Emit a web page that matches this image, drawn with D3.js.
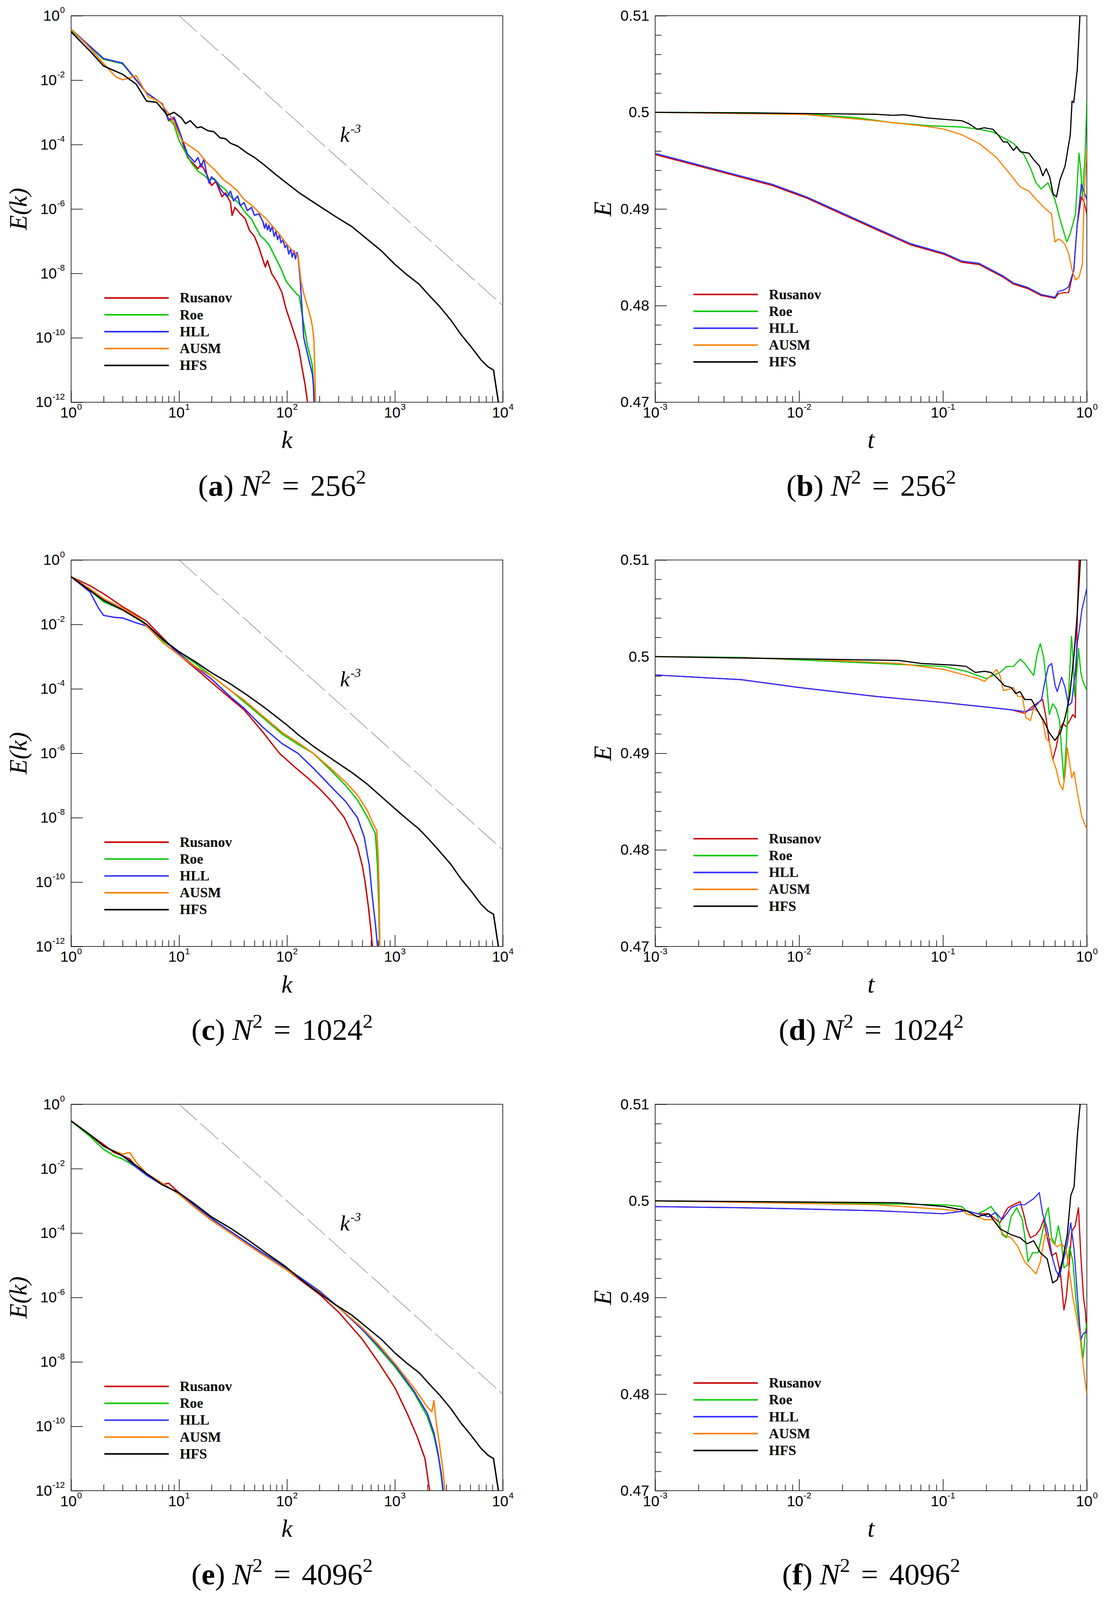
<!DOCTYPE html>
<html>
<head>
<meta charset="utf-8">
<script src="https://cdn.jsdelivr.net/npm/d3@7"></script>
<style>html,body{margin:0;padding:0;background:#fff;overflow:hidden}svg{display:block;width:100vw;height:100vh}</style>
</head>
<body>
<div id="chart"></div>
<script>
// scheme names and line colours
var schemes = ['Rusanov', 'Roe', 'HLL', 'AUSM', 'HFS'];
var colors = ['#cc0000', '#00c800', '#3030ff', '#ff8000', '#000000'];

// energy spectra: [k, log10 E(k)]
var aRusanov = [[1,-0.45],[2,-1.35],[3,-1.49],[5,-2.39],[7,-2.74],[8,-3.26],[9,-3.2],[10,-3.6],[12,-4.4],[15,-4.75],[16,-4.6],[18,-4.92],[20,-5.27],[22,-5.15],[25,-5.62],[27,-5.5],[30,-5.8],[31,-6.2],[33,-5.95],[37,-6.15],[41,-6.3],[45,-6.67],[50,-6.85],[55,-7.2],[63,-7.8],[66,-7.6],[72,-8.0],[80,-8.24],[90,-8.6],[98,-9.1],[110,-9.6],[123,-10.1],[130,-10.4],[137,-10.87],[148,-11.5],[155,-12]];
var aRoe = [[1,-0.45],[2,-1.35],[3,-1.49],[5,-2.39],[7,-2.74],[8,-3.2],[9,-3.39],[10,-3.87],[11,-4.13],[13,-4.57],[15,-4.83],[17,-4.95],[19,-5.1],[21,-5.05],[24,-5.27],[27,-5.4],[30,-5.62],[34,-5.75],[37,-5.88],[40,-6.06],[47,-6.32],[52,-6.6],[57,-6.84],[62,-6.95],[68,-7.1],[79,-7.54],[88,-7.85],[98,-8.24],[110,-8.45],[123,-8.64],[130,-8.7],[137,-9.2],[143,-9.55],[155,-10.25],[165,-10.6],[172,-10.87],[178,-11.65],[180,-12]];
var aHLL = [[1,-0.42],[2,-1.33],[3,-1.47],[5,-2.39],[7,-2.74],[8,-3.22],[9,-3.15],[10,-3.55],[12,-4.3],[14,-4.55],[15,-4.4],[16,-4.7],[17,-4.45],[18,-4.9],[19,-5.2],[20,-5.0],[22,-5.15],[25,-5.45],[28,-5.62],[30,-5.45],[32,-5.75],[35,-5.6],[37,-5.9],[40,-5.8],[43,-6.05],[47,-5.95],[50,-6.2],[55,-6.15],[60,-6.4],[62,-6.6],[64,-6.45],[66,-6.65],[68,-6.5],[70,-6.7],[73,-6.55],[76,-6.85],[79,-6.7],[82,-6.95],[85,-6.8],[88,-7.05],[92,-6.95],[96,-7.2],[100,-7.1],[104,-7.4],[108,-7.25],[112,-7.5],[116,-7.3],[120,-7.55],[124,-7.35],[127,-7.5],[133,-8.24],[143,-9.99],[150,-10.3],[160,-10.7],[172,-11.13],[176,-11.5],[178,-12]];
var aAUSM = [[1,-0.42],[1.4,-0.9],[2.2,-1.64],[2.6,-1.9],[3,-1.99],[3.5,-1.93],[4,-1.86],[5.2,-2.52],[6,-2.6],[6.7,-2.69],[8.4,-3.13],[9.5,-3.5],[10.6,-3.87],[12,-4.0],[15,-4.22],[18,-4.55],[22,-4.83],[26,-5.1],[30,-5.25],[35,-5.45],[40,-5.7],[47,-5.88],[55,-6.1],[63,-6.28],[72,-6.5],[84,-6.76],[95,-7.0],[106,-7.2],[118,-7.35],[127,-7.46],[135,-8.24],[145,-8.7],[155,-9.03],[165,-9.35],[172,-9.64],[178,-10.08],[181,-11.0],[183,-11.56],[184,-12]];
var aHFS = [[1,-0.5],[1.5,-1.1],[2,-1.56],[3,-1.82],[4,-2.12],[5,-2.65],[6.2,-2.69],[7,-2.9],[7.8,-3.09],[9,-3.0],[10.5,-3.17],[11.5,-3.35],[12.7,-3.26],[14.7,-3.48],[16,-3.45],[18.5,-3.57],[21,-3.6],[24,-3.79],[27,-3.82],[30,-3.96],[35,-4.05],[43,-4.27],[50,-4.4],[63,-4.66],[80,-4.95],[98,-5.18],[130,-5.5],[178,-5.8],[280,-6.23],[400,-6.55],[550,-6.93],[750,-7.3],[1000,-7.72],[1300,-8.05],[1670,-8.33],[2100,-8.7],[2600,-9.03],[3300,-9.45],[4100,-9.9],[5000,-10.25],[6300,-10.69],[7300,-10.9],[8200,-11.0],[9100,-12]];

var cRusanov = [[1,-0.52],[1.5,-0.8],[2,-1.05],[3,-1.45],[4,-1.7],[5,-1.9],[7,-2.4],[10,-2.95],[14,-3.35],[20,-3.8],[30,-4.3],[40,-4.65],[60,-5.35],[85,-6.0],[120,-6.45],[160,-6.8],[200,-7.1],[260,-7.5],[340,-8.0],[400,-8.5],[450,-8.9],[500,-9.5],[530,-10.0],[570,-10.8],[600,-11.5],[620,-12]];
var cRoe = [[1,-0.52],[1.5,-0.95],[2,-1.3],[3,-1.55],[4,-1.75],[5,-2.0],[7,-2.5],[10,-2.85],[14,-3.2],[20,-3.6],[30,-4.05],[40,-4.4],[60,-4.9],[90,-5.4],[130,-5.75],[175,-6.0],[250,-6.5],[350,-7.0],[450,-7.45],[560,-8.0],[620,-8.3],[660,-8.5],[690,-9.5],[710,-10.8],[720,-12]];
var cHLL = [[1,-0.52],[1.5,-1.0],[1.8,-1.5],[2,-1.72],[2.5,-1.78],[3,-1.8],[4,-1.95],[5,-2.05],[7,-2.45],[10,-2.9],[14,-3.3],[20,-3.7],[30,-4.25],[40,-4.6],[60,-5.2],[90,-5.7],[126,-6.0],[180,-6.5],[250,-7.0],[350,-7.5],[450,-8.0],[520,-8.6],[580,-9.5],[620,-10.5],[660,-11.3],[690,-12]];
var cAUSM = [[1,-0.52],[1.5,-0.9],[2,-1.2],[3,-1.5],[4,-1.75],[5,-2.05],[7,-2.55],[10,-2.95],[14,-3.3],[20,-3.6],[30,-4.05],[40,-4.35],[60,-4.85],[90,-5.35],[130,-5.7],[175,-6.0],[250,-6.45],[350,-6.9],[450,-7.3],[560,-7.8],[630,-8.2],[680,-8.4],[700,-9.2],[715,-10.3],[725,-12]];
var cHFS = [[1,-0.52],[1.5,-0.95],[2,-1.25],[3,-1.55],[4,-1.8],[5,-2.0],[7,-2.45],[10,-2.85],[14,-3.15],[20,-3.5],[30,-3.85],[43,-4.2],[63,-4.6],[98,-5.1],[130,-5.45],[178,-5.8],[280,-6.25],[400,-6.6],[550,-6.95],[750,-7.35],[1000,-7.72],[1300,-8.05],[1670,-8.35],[2100,-8.7],[2600,-9.05],[3300,-9.45],[4100,-9.9],[5000,-10.25],[6300,-10.69],[7300,-10.9],[8200,-11.0],[9100,-12]];

var eRusanov = [[1,-0.52],[1.5,-0.95],[2,-1.25],[2.5,-1.5],[3,-1.6],[3.5,-1.7],[4,-1.95],[5,-2.2],[7,-2.5],[8,-2.45],[10,-2.75],[14,-3.2],[20,-3.6],[30,-4.0],[50,-4.5],[100,-5.15],[200,-5.9],[300,-6.45],[500,-7.3],[700,-8.0],[1000,-8.8],[1300,-9.6],[1600,-10.3],[1900,-11.0],[2100,-12]];
var eRoe = [[1,-0.52],[1.5,-1.0],[2,-1.4],[2.5,-1.6],[3,-1.7],[4,-1.95],[5,-2.2],[7,-2.5],[10,-2.75],[14,-3.15],[20,-3.55],[30,-3.95],[50,-4.45],[100,-5.1],[200,-5.8],[300,-6.3],[500,-7.0],[700,-7.55],[1000,-8.15],[1500,-8.95],[2000,-9.7],[2300,-10.3],[2550,-11.0],[2700,-11.6],[2780,-12]];
var eHLL = [[1,-0.52],[1.5,-0.95],[2,-1.3],[3,-1.6],[4,-1.95],[5,-2.2],[7,-2.5],[10,-2.75],[14,-3.15],[20,-3.55],[30,-3.95],[50,-4.45],[100,-5.1],[200,-5.8],[300,-6.3],[500,-7.0],[700,-7.5],[1000,-8.1],[1500,-8.9],[2000,-9.6],[2300,-10.2],[2500,-10.8],[2700,-11.5],[2800,-12]];
var eAUSM = [[1,-0.52],[1.5,-0.95],[2,-1.3],[2.5,-1.45],[3,-1.55],[3.5,-1.5],[4,-1.8],[5,-2.15],[7,-2.45],[10,-2.8],[14,-3.2],[20,-3.6],[30,-4.0],[50,-4.5],[100,-5.15],[200,-5.85],[300,-6.3],[500,-6.95],[700,-7.45],[1000,-8.05],[1500,-8.8],[2000,-9.4],[2200,-9.55],[2300,-9.2],[2400,-9.8],[2600,-10.6],[2800,-11.4],[2900,-12]];
var eHFS = [[1,-0.52],[1.5,-0.95],[2,-1.3],[3,-1.6],[4,-1.9],[5,-2.15],[7,-2.5],[10,-2.75],[14,-3.1],[20,-3.5],[30,-3.85],[43,-4.2],[63,-4.6],[98,-5.05],[130,-5.4],[178,-5.75],[280,-6.22],[400,-6.55],[550,-6.93],[750,-7.3],[1000,-7.72],[1300,-8.05],[1670,-8.33],[2100,-8.7],[2600,-9.03],[3300,-9.45],[4100,-9.9],[5000,-10.25],[6300,-10.69],[7300,-10.9],[8200,-11.0],[9100,-12]];

// kinetic energy history: [t, E]
var bRusanov = [[0.001,0.49563],[0.00217,0.49431],[0.00655,0.49242],[0.01135,0.49111],[0.0197,0.4895],[0.0341,0.4879],[0.0593,0.4863],[0.1028,0.48528],[0.1355,0.48448],[0.178,0.48426],[0.262,0.48294],[0.309,0.48222],[0.385,0.48178],[0.481,0.48105],[0.6,0.48076],[0.632,0.4812],[0.687,0.48134],[0.746,0.48134],[0.811,0.48367],[0.857,0.48834],[0.916,0.49125],[0.957,0.4907],[1.0,0.4895]];
var bRoe = [[0.001,0.5],[0.005,0.49995],[0.01135,0.49985],[0.0259,0.49942],[0.045,0.49892],[0.078,0.49863],[0.1355,0.49848],[0.178,0.49825],[0.222,0.49796],[0.262,0.49738],[0.309,0.49679],[0.365,0.49563],[0.407,0.49417],[0.443,0.49271],[0.481,0.49207],[0.537,0.49271],[0.6,0.49096],[0.668,0.48834],[0.726,0.48659],[0.767,0.48746],[0.834,0.4895],[0.881,0.49577],[0.906,0.4942],[0.931,0.49125],[0.973,0.49563],[1.0,0.50117]];
var bHLL = [[0.001,0.49575],[0.00217,0.49443],[0.00655,0.49254],[0.01135,0.49123],[0.0197,0.48962],[0.0341,0.48802],[0.0593,0.48642],[0.1028,0.4854],[0.1355,0.4846],[0.178,0.48438],[0.262,0.48306],[0.309,0.48234],[0.385,0.4819],[0.481,0.48115],[0.6,0.48085],[0.632,0.48145],[0.687,0.4816],[0.746,0.48192],[0.811,0.48367],[0.857,0.48834],[0.916,0.49257],[0.957,0.4918],[1.0,0.49096]];
var bAUSM = [[0.001,0.5],[0.0111,0.49977],[0.0341,0.49913],[0.078,0.49854],[0.1028,0.49825],[0.1355,0.49767],[0.178,0.49679],[0.235,0.49534],[0.293,0.49359],[0.345,0.49227],[0.396,0.49184],[0.455,0.49082],[0.522,0.48994],[0.568,0.4895],[0.6,0.48659],[0.632,0.48688],[0.668,0.48673],[0.706,0.4863],[0.746,0.48542],[0.789,0.48367],[0.834,0.48265],[0.881,0.48294],[0.931,0.48426],[0.957,0.49125],[1.0,0.49621]];
var bHFS = [[0.001,0.5],[0.00655,0.49991],[0.0341,0.4998],[0.045,0.49969],[0.0531,0.49975],[0.0593,0.49966],[0.078,0.49942],[0.092,0.49933],[0.1028,0.49927],[0.1355,0.49913],[0.151,0.49883],[0.173,0.49825],[0.194,0.4984],[0.222,0.49825],[0.242,0.49767],[0.262,0.49694],[0.28,0.49694],[0.309,0.49606],[0.325,0.49644],[0.345,0.49592],[0.396,0.49577],[0.43,0.49504],[0.468,0.49446],[0.494,0.49344],[0.522,0.49417],[0.552,0.4933],[0.583,0.49155],[0.615,0.49125],[0.65,0.493],[0.706,0.49446],[0.767,0.49767],[0.789,0.50116],[0.811,0.50102],[0.857,0.50437],[0.895,0.51]];

var dRusanov = [[0.001,0.4981],[0.00398,0.49761],[0.01,0.4968],[0.0345,0.49587],[0.1,0.49525],[0.208,0.49475],[0.298,0.4945],[0.37,0.49413],[0.412,0.49475],[0.458,0.49525],[0.493,0.49556],[0.52,0.49369],[0.548,0.4912],[0.579,0.48933],[0.611,0.49058],[0.646,0.49245],[0.681,0.49307],[0.719,0.49276],[0.759,0.49338],[0.8,0.494],[0.83,0.49369],[0.859,0.50458],[0.883,0.51]];
var dRoe = [[0.001,0.5],[0.00398,0.49992],[0.1014,0.49898],[0.1452,0.49848],[0.174,0.49805],[0.201,0.49774],[0.224,0.49805],[0.249,0.49836],[0.277,0.49898],[0.309,0.49898],[0.344,0.49973],[0.37,0.49929],[0.397,0.49867],[0.427,0.49805],[0.451,0.50023],[0.475,0.50135],[0.501,0.49992],[0.53,0.49649],[0.548,0.494],[0.579,0.49512],[0.611,0.49462],[0.646,0.49338],[0.668,0.49027],[0.693,0.48716],[0.719,0.49089],[0.759,0.49836],[0.782,0.5021],[0.8,0.49992],[0.824,0.49587],[0.851,0.49836],[0.875,0.50085],[0.908,0.49836],[0.94,0.49743],[1.0,0.4965]];
var dHLL = [[0.001,0.4981],[0.00398,0.49761],[0.01,0.4968],[0.0345,0.49587],[0.1,0.49525],[0.208,0.49475],[0.298,0.4945],[0.37,0.49431],[0.412,0.4945],[0.443,0.49494],[0.484,0.49556],[0.511,0.49743],[0.54,0.49898],[0.569,0.4993],[0.6,0.49711],[0.622,0.49637],[0.668,0.49786],[0.706,0.4968],[0.745,0.49494],[0.785,0.49525],[0.83,0.49836],[0.859,0.50147],[0.891,0.50303],[0.925,0.5049],[0.957,0.50583],[1.0,0.50707]];
var dAUSM = [[0.001,0.5],[0.0117,0.49973],[0.0494,0.49929],[0.1014,0.49867],[0.1452,0.49805],[0.174,0.49774],[0.194,0.49743],[0.216,0.49805],[0.236,0.49867],[0.249,0.49805],[0.263,0.49649],[0.288,0.49662],[0.309,0.4968],[0.332,0.49587],[0.356,0.49587],[0.377,0.49369],[0.405,0.49338],[0.427,0.49462],[0.458,0.49431],[0.493,0.49338],[0.52,0.49151],[0.548,0.4912],[0.579,0.48933],[0.611,0.4884],[0.646,0.48684],[0.681,0.48622],[0.706,0.48778],[0.731,0.49058],[0.759,0.48902],[0.785,0.48747],[0.815,0.48809],[0.845,0.48653],[0.875,0.48529],[0.923,0.48342],[0.957,0.4828],[1.0,0.48218]];
var dHFS = [[0.001,0.5],[0.0494,0.4996],[0.0708,0.49929],[0.1213,0.49911],[0.1452,0.49898],[0.168,0.49836],[0.194,0.49848],[0.216,0.49836],[0.24,0.49774],[0.267,0.49699],[0.298,0.4968],[0.32,0.49618],[0.344,0.49637],[0.37,0.49556],[0.412,0.49556],[0.458,0.49431],[0.501,0.49338],[0.548,0.49213],[0.6,0.49133],[0.656,0.49213],[0.706,0.49369],[0.759,0.49587],[0.815,0.50023],[0.859,0.50458],[0.902,0.51]];

var fRusanov = [[0.001,0.4994],[0.00398,0.49929],[0.01,0.49917],[0.0345,0.49898],[0.1,0.49867],[0.1452,0.49898],[0.174,0.49867],[0.208,0.49867],[0.249,0.49774],[0.267,0.49867],[0.283,0.49929],[0.309,0.4996],[0.344,0.49992],[0.363,0.49867],[0.384,0.49711],[0.405,0.49618],[0.443,0.49649],[0.475,0.49711],[0.501,0.49805],[0.53,0.49618],[0.569,0.49431],[0.611,0.49463],[0.656,0.49245],[0.693,0.48871],[0.719,0.48996],[0.745,0.49245],[0.785,0.4968],[0.83,0.49743],[0.875,0.49929],[0.908,0.49431],[0.948,0.48996],[0.975,0.48871],[1.0,0.48622]];
var fRoe = [[0.001,0.5],[0.1,0.4996],[0.135,0.49942],[0.1452,0.49898],[0.174,0.49867],[0.194,0.49898],[0.216,0.49942],[0.24,0.49836],[0.258,0.49649],[0.277,0.49618],[0.298,0.49836],[0.326,0.49929],[0.356,0.49805],[0.377,0.49556],[0.39,0.49369],[0.42,0.49463],[0.458,0.49463],[0.493,0.4968],[0.52,0.49867],[0.54,0.49929],[0.569,0.49618],[0.6,0.49556],[0.634,0.49743],[0.668,0.49556],[0.693,0.49307],[0.731,0.49338],[0.759,0.49525],[0.8,0.49369],[0.845,0.48933],[0.891,0.48684],[0.94,0.48373],[0.975,0.48622],[1.0,0.48747]];
var fHLL = [[0.001,0.4994],[0.00398,0.49929],[0.01,0.49917],[0.0345,0.49898],[0.1,0.49867],[0.1452,0.49898],[0.174,0.49867],[0.208,0.49836],[0.232,0.4988],[0.258,0.49805],[0.298,0.49929],[0.332,0.4996],[0.37,0.4996],[0.427,0.50023],[0.467,0.50085],[0.493,0.49867],[0.53,0.49711],[0.579,0.494],[0.611,0.49276],[0.646,0.49213],[0.681,0.49369],[0.719,0.49494],[0.773,0.49774],[0.815,0.49494],[0.859,0.49027],[0.908,0.4856],[0.94,0.48622],[1.0,0.48653]];
var fAUSM = [[0.001,0.5],[0.0345,0.4996],[0.1014,0.49911],[0.1213,0.49898],[0.135,0.49917],[0.1452,0.49867],[0.174,0.49836],[0.194,0.49805],[0.224,0.49805],[0.24,0.49755],[0.263,0.49649],[0.298,0.49618],[0.332,0.49525],[0.37,0.49369],[0.405,0.49307],[0.443,0.49245],[0.475,0.49369],[0.511,0.49649],[0.548,0.49618],[0.59,0.49556],[0.622,0.49525],[0.668,0.49556],[0.719,0.49494],[0.759,0.49245],[0.8,0.48996],[0.845,0.48809],[0.891,0.48622],[0.94,0.48311],[0.975,0.48124],[1.0,0.48]];
var fHFS = [[0.001,0.5],[0.0494,0.4998],[0.1014,0.49942],[0.1452,0.49898],[0.174,0.49836],[0.208,0.49867],[0.249,0.49711],[0.298,0.49649],[0.344,0.49618],[0.384,0.49556],[0.427,0.49587],[0.475,0.49463],[0.53,0.494],[0.579,0.49151],[0.622,0.49182],[0.681,0.494],[0.731,0.49649],[0.773,0.50054],[0.815,0.50147],[0.859,0.50676],[0.898,0.51]];

// k^-3 reference line end points and axis ticks
var slopeK = [10, 10000];
var slopeE = [1, 1e-9];
var specYTicks = [1, 1e-2, 1e-4, 1e-6, 1e-8, 1e-10, 1e-12];
var specXTicks = [1, 10, 100, 1000, 10000];
var timeXTicks = [0.001, 0.01, 0.1, 1];
var timeYTicks = [0.47, 0.48, 0.49, 0.5, 0.51];
var panelTags = ['a', 'b', 'c', 'd', 'e', 'f'];
var gridSizes = ['256', '256', '1024', '1024', '4096', '4096'];

var SANS = "'Liberation Sans', Arial, Helvetica, sans-serif";
var SERIF = "'Liberation Serif', 'Times New Roman', serif";

var width = 2831, height = 4173;
var rowTop = [41, 1460.5, 2880];
var plotH = 1008;
var leftCol = [182, 1287], rightCol = [1677, 2782];

// stretch the drawing onto whatever viewport the page gets
var svg = d3.select('#chart').append('svg')
    .attr('viewBox', '0 0 ' + width + ' ' + height)
    .attr('preserveAspectRatio', 'none');
svg.append('rect').attr('width', width).attr('height', height).attr('fill', '#fff');
var defs = svg.append('defs');

function minorLog(lo, hi) {
    var out = [];
    for (var d = lo; d < hi; d *= 10)
        for (var m = 2; m <= 9; m++) out.push(d * m);
    return out;
}

function powLabel(g, x, y, exp, anchor) {
    var t = g.append('text')
        .attr('x', x).attr('y', y)
        .attr('text-anchor', anchor)
        .attr('font-family', SANS)
        .attr('font-size', 38);
    t.append('tspan').text('10');
    t.append('tspan').attr('dx', 1).attr('dy', -20).attr('font-size', 22).text(exp);
}

function ticks(g, axis, pos, size) {
    g.append('g')
        .attr('transform', pos)
        .attr('color', '#000')
        .call(axis.tickSize(-size).tickFormat(''))
        .call(function(a) { a.select('.domain').remove(); })
        .selectAll('line').attr('stroke-width', 1.6);
}

function legend(g, x0, y0) {
    schemes.forEach(function(s, i) {
        var y = y0 + i * 44;
        g.append('line')
            .attr('x1', x0).attr('x2', x0 + 165)
            .attr('y1', y).attr('y2', y)
            .attr('stroke', colors[i]).attr('stroke-width', 4);
        g.append('text')
            .attr('x', x0 + 193).attr('y', y + 12)
            .attr('font-family', SERIF).attr('font-weight', 'bold')
            .attr('font-size', 36)
            .text(s);
    });
}

function caption(cx, y, tag, n) {
    var t = svg.append('text')
        .attr('x', cx).attr('y', y)
        .attr('text-anchor', 'middle')
        .attr('font-family', SERIF)
        .attr('font-size', 78);
    t.append('tspan').text('(');
    t.append('tspan').attr('font-weight', 'bold').text(tag);
    t.append('tspan').text(')');
    t.append('tspan').attr('dx', 18).attr('font-style', 'italic').text('N');
    t.append('tspan').attr('font-size', 52).attr('dy', -32).text('2');
    t.append('tspan').attr('dx', 28).attr('dy', 32).text('=');
    t.append('tspan').attr('dx', 28).text(n);
    t.append('tspan').attr('font-size', 52).attr('dy', -32).text('2');
}

function frame(g, x0, x1, top, bottom, id) {
    g.append('rect')
        .attr('x', x0).attr('y', top)
        .attr('width', x1 - x0).attr('height', bottom - top)
        .attr('fill', 'none').attr('stroke', '#000').attr('stroke-width', 1.6);
    defs.append('clipPath').attr('id', id)
        .append('rect')
        .attr('x', x0).attr('y', top)
        .attr('width', x1 - x0).attr('height', bottom - top);
}

function drawSpectrum(row, series) {
    var top = rowTop[row], bottom = top + plotH;
    var x = d3.scaleLog().domain([1, 1e4]).range(leftCol);
    var y = d3.scaleLog().domain([1e-12, 1]).range([bottom, top]);
    var g = svg.append('g');
    var id = 'clipS' + row;

    frame(g, leftCol[0], leftCol[1], top, bottom, id);
    ticks(g, d3.axisBottom(x).tickValues(minorLog(1, 1e4)), 'translate(0,' + bottom + ')', 16);
    ticks(g, d3.axisBottom(x).tickValues(specXTicks), 'translate(0,' + bottom + ')', 30);
    ticks(g, d3.axisLeft(y).tickValues(specYTicks), 'translate(' + leftCol[0] + ',0)', 30);

    specXTicks.forEach(function(v) {
        powLabel(g, x(v), bottom + 40, String(Math.round(Math.log10(v))), 'middle');
    });
    specYTicks.forEach(function(v) {
        powLabel(g, leftCol[0] - 16, y(v) + 13, String(Math.round(Math.log10(v))), 'end');
    });

    var plot = g.append('g').attr('clip-path', 'url(#' + id + ')');

    plot.append('path')
        .datum(d3.zip(slopeK, slopeE))
        .attr('fill', 'none')
        .attr('stroke', '#8a8a8a')
        .attr('stroke-width', 1.5)
        .attr('stroke-dasharray', '62,12')
        .attr('d', d3.line().x(function(d) { return x(d[0]); }).y(function(d) { return y(d[1]); }));

    var line = d3.line()
        .x(function(d) { return x(d[0]); })
        .y(function(d) { return y(Math.pow(10, d[1])); });

    series.forEach(function(s, i) {
        plot.append('path')
            .datum(s)
            .attr('fill', 'none')
            .attr('stroke', colors[i])
            .attr('stroke-width', 3.5)
            .attr('stroke-linejoin', 'round')
            .attr('d', line);
    });

    // k^-3 annotation
    var kt = g.append('text')
        .attr('x', x(310)).attr('y', y(Math.pow(10, -3.92)))
        .attr('font-family', SERIF).attr('font-style', 'italic')
        .attr('font-size', 56);
    kt.append('tspan').text('k');
    kt.append('tspan').attr('font-size', 32).attr('dy', -24).attr('dx', 2).text('-3');

    legend(g, leftCol[0] + 85, top + 736);

    g.append('text')
        .attr('x', (leftCol[0] + leftCol[1]) / 2).attr('y', bottom + 120)
        .attr('text-anchor', 'middle')
        .attr('font-family', SERIF).attr('font-style', 'italic')
        .attr('font-size', 64).text('k');

    g.append('text')
        .attr('transform', 'translate(68,' + (top + bottom) / 2 + ') rotate(-90)')
        .attr('text-anchor', 'middle')
        .attr('font-family', SERIF).attr('font-style', 'italic')
        .attr('font-size', 64).text('E(k)');
}

function drawEnergy(row, series) {
    var top = rowTop[row], bottom = top + plotH;
    var x = d3.scaleLog().domain([1e-3, 1]).range(rightCol);
    var y = d3.scaleLinear().domain([0.47, 0.51]).range([bottom, top]);
    var g = svg.append('g');
    var id = 'clipE' + row;

    frame(g, rightCol[0], rightCol[1], top, bottom, id);
    ticks(g, d3.axisBottom(x).tickValues(minorLog(1e-3, 1)), 'translate(0,' + bottom + ')', 16);
    ticks(g, d3.axisBottom(x).tickValues(timeXTicks), 'translate(0,' + bottom + ')', 30);
    ticks(g, d3.axisLeft(y).tickValues(d3.range(0.472, 0.51, 0.002).filter(function(v) {
        return Math.abs(Math.round(v * 100) - v * 100) > 0.05;
    })), 'translate(' + rightCol[0] + ',0)', 16);
    ticks(g, d3.axisLeft(y).tickValues(timeYTicks), 'translate(' + rightCol[0] + ',0)', 30);

    timeXTicks.forEach(function(v) {
        powLabel(g, x(v), bottom + 40, String(Math.round(Math.log10(v))), 'middle');
    });
    timeYTicks.forEach(function(v) {
        g.append('text')
            .attr('x', rightCol[0] - 15).attr('y', y(v) + 13)
            .attr('text-anchor', 'end')
            .attr('font-family', SANS).attr('font-size', 38)
            .text(String(v));
    });

    var plot = g.append('g').attr('clip-path', 'url(#' + id + ')');
    var line = d3.line()
        .x(function(d) { return x(d[0]); })
        .y(function(d) { return y(d[1]); });

    series.forEach(function(s, i) {
        plot.append('path')
            .datum(s)
            .attr('fill', 'none')
            .attr('stroke', colors[i])
            .attr('stroke-width', 3)
            .attr('stroke-linejoin', 'round')
            .attr('d', line);
    });

    legend(g, rightCol[0] + 98, top + 727);

    g.append('text')
        .attr('x', (rightCol[0] + rightCol[1]) / 2).attr('y', bottom + 120)
        .attr('text-anchor', 'middle')
        .attr('font-family', SERIF).attr('font-style', 'italic')
        .attr('font-size', 64).text('t');

    g.append('text')
        .attr('transform', 'translate(1564,' + (top + bottom) / 2 + ') rotate(-90)')
        .attr('text-anchor', 'middle')
        .attr('font-family', SERIF).attr('font-style', 'italic')
        .attr('font-size', 64).text('E');
}

drawSpectrum(0, [aRusanov, aRoe, aHLL, aAUSM, aHFS]);
drawSpectrum(1, [cRusanov, cRoe, cHLL, cAUSM, cHFS]);
drawSpectrum(2, [eRusanov, eRoe, eHLL, eAUSM, eHFS]);
drawEnergy(0, [bRusanov, bRoe, bHLL, bAUSM, bHFS]);
drawEnergy(1, [dRusanov, dRoe, dHLL, dAUSM, dHFS]);
drawEnergy(2, [fRusanov, fRoe, fHLL, fAUSM, fHFS]);

panelTags.forEach(function(tag, i) {
    var row = Math.floor(i / 2);
    var cx = i % 2 === 0 ? 722 : 2230;
    caption(cx, rowTop[row] + plotH + 244, tag, gridSizes[i]);
});
</script>
</body>
</html>
